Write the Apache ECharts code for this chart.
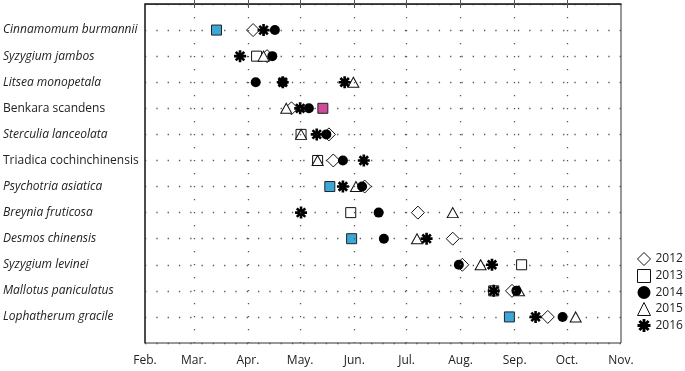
<!DOCTYPE html>
<html lang="en">
<head>
  <meta charset="UTF-8">
  <script src="https://cdn.jsdelivr.net/npm/echarts@6/dist/echarts.min.js"></script>
  <style>
    html, body { margin: 0; padding: 0; background: #fff; }
    #chart { width: 685px; height: 371px; }
  </style>
</head>
<body>
  <div id="chart"></div>
  <script>
    // species, top to bottom (row 1..12); upright ones are not italic in the source
    const species = [
      'Cinnamomum burmannii', 'Syzygium jambos', 'Litsea monopetala', 'Benkara scandens',
      'Sterculia lanceolata', 'Triadica cochinchinensis', 'Psychotria asiatica', 'Breynia fruticosa',
      'Desmos chinensis', 'Syzygium levinei', 'Mallotus paniculatus', 'Lophatherum gracile'
    ];
    const upright = ['Benkara scandens', 'Triadica cochinchinensis'];

    // month ticks as day of year
    const monthDays = [32, 60, 91, 121, 152, 182, 213, 244, 274, 305];
    const monthNames = ['Feb.', 'Mar.', 'Apr.', 'May.', 'Jun.', 'Jul.', 'Aug.', 'Sep.', 'Oct.', 'Nov.'];

    // [day of year, row]
    const y2012 = [[94, 1], [102, 2], [116, 4], [137.5, 5], [140, 6], [158, 7], [188.5, 8], [208.5, 9], [214, 10], [242.5, 11], [263, 12]];
    const y2013 = [[96, 2], [121.5, 5], [131, 6], [150, 8], [248, 10], [232, 11]];
    const cyan2013 = [[73, 1], [138, 7], [150.5, 9], [241, 12]];
    const magenta2013 = [[134, 4]];
    const y2014 = [[106.5, 1], [105, 2], [95.5, 3], [111, 3], [126, 4], [136, 5], [145.5, 6], [156.5, 7], [166, 8], [169, 9], [212, 10], [245, 11], [271.5, 12]];
    const y2015 = [[100, 2], [151.5, 3], [113, 4], [121.5, 5], [131, 6], [153, 7], [208.5, 8], [188, 9], [224.5, 10], [246.5, 11], [279, 12]];
    const y2016 = [[100, 1], [86.5, 2], [111, 3], [146.5, 3], [121, 4], [130.5, 5], [157.5, 6], [145.5, 7], [121.5, 8], [193.5, 9], [231, 10], [232, 11], [256, 12]];

    // heavy 8-arm asterisk
    const star = 'path://M-10,-2.2L10,-2.2L10,2.2L-10,2.2Z' +
      'M-2.2,-10L2.2,-10L2.2,10L-2.2,10Z' +
      'M-5.51,-8.63L8.63,5.51L5.51,8.63L-8.63,-5.51Z' +
      'M8.63,-5.51L-5.51,8.63L-8.63,5.51L5.51,-8.63Z';

    const openStyle = { color: '#fff', borderColor: '#111', borderWidth: 1, opacity: 1 };
    const font = '"Open Sans", "Noto Sans", sans-serif';

    var chart = echarts.init(document.getElementById('chart'));
    chart.setOption({
      animation: false,
      textStyle: { fontFamily: font },
      grid: { left: 145, right: 64, top: 4, bottom: 28, show: true, borderColor: '#333', borderWidth: 1 },
      legend: {
        orient: 'vertical',
        left: 637,
        top: 252,
        padding: 0,
        itemWidth: 13,
        itemHeight: 13,
        itemGap: 3,
        itemStyle: { borderWidth: 1 },
        textStyle: { fontSize: 12, lineHeight: 13, color: '#222', fontFamily: font },
        data: [
          { name: '2012', icon: 'diamond' },
          { name: '2013', icon: 'rect' },
          { name: '2014', icon: 'circle' },
          { name: '2015', icon: 'triangle' },
          { name: '2016', icon: star }
        ]
      },
      xAxis: [
        {
          type: 'value', min: 32, max: 305,
          axisLine: { show: true, lineStyle: { color: '#333', width: 1.5 } },
          axisTick: { show: true, inside: true, length: 4, customValues: monthDays.slice(1, -1), lineStyle: { color: '#555' } },
          axisLabel: {
            customValues: monthDays, margin: 12, fontSize: 12, color: '#222',
            formatter: v => monthNames[monthDays.indexOf(v)]
          },
          splitLine: { show: false }
        },
        {
          type: 'value', min: 32, max: 305, position: 'top',
          axisLine: { show: true, lineStyle: { color: '#333', width: 1 } },
          axisTick: { show: true, inside: true, length: 4, customValues: monthDays.slice(1, -1), lineStyle: { color: '#555' } },
          axisLabel: { show: false },
          splitLine: { show: false }
        }
      ],
      yAxis: {
        type: 'value', min: 0, max: 13, interval: 1, inverse: true,
        axisLine: { show: true, lineStyle: { color: '#333', width: 1.5 } },
        axisTick: { show: false },
        splitLine: { show: true, lineStyle: { color: '#555', width: 1.3, type: [1.3, 10] } },
        axisLabel: {
          align: 'left', margin: 142,
          formatter: v => {
            const n = species[v - 1];
            if (!n) return '';
            return upright.includes(n) ? '{n|' + n + '}' : '{i|' + n + '}';
          },
          rich: {
            i: { fontStyle: 'italic', fontSize: 12, color: '#222', fontFamily: font },
            n: { fontSize: 12, color: '#222', fontFamily: font }
          }
        }
      },
      series: [
        {
          name: '2013', type: 'scatter', symbol: 'rect', symbolSize: 10, data: y2013, itemStyle: openStyle,
          markLine: {
            silent: true, symbol: 'none', label: { show: false },
            lineStyle: { color: '#555', width: 1.3, type: [1.3, 11.7] },
            data: monthDays.slice(1, -1).map(d => ({ xAxis: d }))
          }
        },
        { name: 'cyan', type: 'scatter', symbol: 'rect', symbolSize: 10, data: cyan2013, itemStyle: { color: '#3ca8d8', borderColor: '#222', borderWidth: 1, opacity: 1 } },
        { name: 'magenta', type: 'scatter', symbol: 'rect', symbolSize: 10, data: magenta2013, itemStyle: { color: '#cf4a98', borderColor: '#222', borderWidth: 1, opacity: 1 } },
        { name: '2012', type: 'scatter', symbol: 'diamond', symbolSize: 13, data: y2012, itemStyle: openStyle },
        { name: '2015', type: 'scatter', symbol: 'triangle', symbolSize: [11, 10], data: y2015, itemStyle: openStyle },
        { name: '2016', type: 'scatter', symbol: star, symbolSize: 12, data: y2016, itemStyle: { color: '#000', opacity: 1 } },
        { name: '2014', type: 'scatter', symbol: 'circle', symbolSize: 10, data: y2014, itemStyle: { color: '#000', opacity: 1 } }
      ]
    });
  </script>
</body>
</html>
